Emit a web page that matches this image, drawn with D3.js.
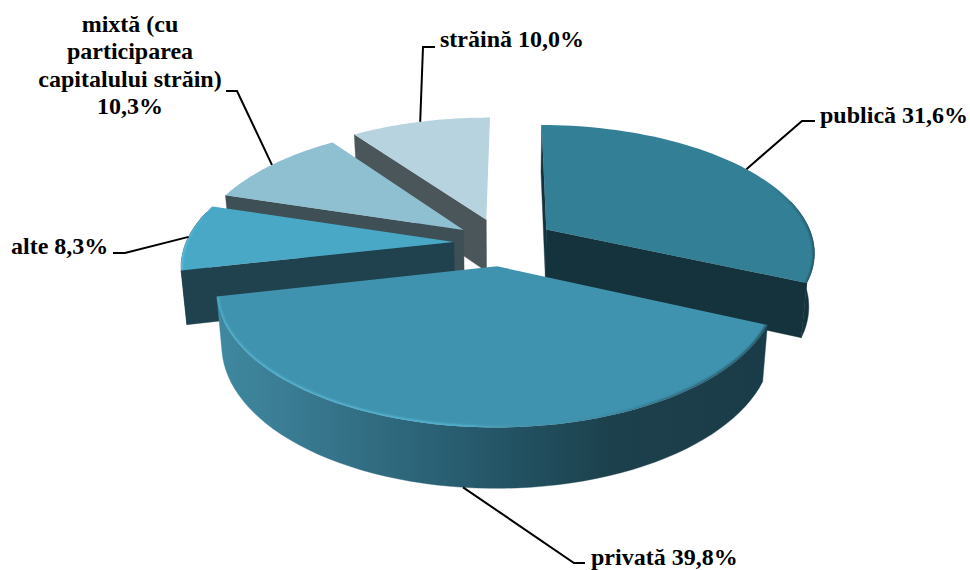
<!DOCTYPE html>
<html>
<head>
<meta charset="utf-8">
<script src="https://cdn.jsdelivr.net/npm/d3@7"></script>
<style>
  html, body { margin: 0; padding: 0; background: #fff; }
  svg { display: block; }
  text { font-family: "Liberation Serif", serif; font-weight: bold; font-size: 24px; fill: #000; }
</style>
</head>
<body>
<div id="chart"></div>
<script>
var categories = ['publică', 'privată', 'alte', 'mixtă', 'străină'];
var values = [31.6, 39.8, 8.3, 10.3, 10.0];
var valueLabels = ['31,6%', '39,8%', '8,3%', '10,3%', '10,0%'];

var explode = [0.2, 0.18, 0.18, 0.18, 0.2];
var topColors = ['#337f95', '#4093ae', '#48a8c5', '#8ec0d2', '#b7d3df'];
var sideColors = ['#15333c', '#1f424e', '#1f424e', '#3e4f56', '#4b565b'];
var drawOrder = [4, 3, 2, 0, 1];
// which cut faces can be seen: start of the slice, end of the slice
var cutFaces = [[true, true], [false, false], [true, false], [true, false], [true, false]];

// label text lines, leader elbow points and text anchor, one entry per slice
var labelLines = [
  ['publică 31,6%'],
  ['privată 39,8%'],
  ['alte 8,3%'],
  ['mixtă (cu', 'participarea', 'capitalului străin)', '10,3%'],
  ['străină 10,0%']
];
var labelElbows = [
  [[802, 121], [815, 121]],
  [[574, 563], [585, 563]],
  [[125, 253], [113, 253]],
  [[237, 91], [226, 91]],
  [[423, 47], [435, 47]]
];
var labelAnchors = [
  { x: 820, y: 123, a: 'start' },
  { x: 591, y: 565, a: 'start' },
  { x: 11, y: 254, a: 'start' },
  { x: 130, y: 32, a: 'middle' },
  { x: 440, y: 47, a: 'start' }
];

var width = 970;
var height = 570;
var cx = 502, cy = 243, rx = 268, ry = 126;
var persp = 0.165;      // ground plane perspective
var depth = 53, depthPersp = 0.11, taper = 0.982;
var turn = 0.4 * Math.PI / 180;

var xScale = d3.scaleLinear().domain([-1, 1]).range([cx - rx, cx + rx]);
var yScale = d3.scaleLinear().domain([-1, 1]).range([cy - ry, cy + ry]);

var svg = d3.select('#chart').append('svg')
  .attr('width', width)
  .attr('height', height);
var defs = svg.append('defs');

// ground point -> screen, Y is positive towards the viewer
function project(X, Y) {
  var s = 1 / (1 - persp * Y);
  return [xScale(X * s), yScale(Y * s)];
}
function projectLow(X, Y) {
  var p = project(X, Y);
  return [cx + (p[0] - cx) * taper, p[1] + depth / (1 - depthPersp * Y)];
}

var pie = d3.pie().sort(null).startAngle(turn).endAngle(2 * Math.PI + turn);
var arcs = pie(values);
var line = d3.line();

arcs.forEach(function (d, i) {
  var mid = (d.startAngle + d.endAngle) / 2;
  d.ox = Math.sin(mid) * explode[i];
  d.oy = -Math.cos(mid) * explode[i];
  d.mid = mid;
  d.rim = d3.range(0, 61).map(function (k) {
    var t = d.startAngle + (d.endAngle - d.startAngle) * k / 60;
    return [d.ox + Math.sin(t), d.oy - Math.cos(t), -Math.cos(t)];
  });
});

function grad(id, x1, x2, stops) {
  var g = defs.append('linearGradient').attr('id', id)
    .attr('gradientUnits', 'userSpaceOnUse')
    .attr('x1', x1).attr('x2', x2).attr('y1', 0).attr('y2', 0);
  stops.forEach(function (s) {
    g.append('stop').attr('offset', s[0]).attr('stop-color', s[1]).attr('stop-opacity', s[2] === undefined ? 1 : s[2]);
  });
  return 'url(#' + id + ')';
}

var blur = defs.append('filter').attr('id', 'soft')
  .attr('x', '-10%').attr('y', '-10%').attr('width', '120%').attr('height', '120%');
blur.append('feGaussianBlur').attr('stdDeviation', 0.9);

var rimFill = {
  1: grad('rimPriv', 222, 765, [[0, '#3f889f'], [0.17, '#37778e'], [0.5, '#245667'], [0.72, '#1c404c'], [1, '#1a3c48']])
};
var bevel = {
  0: grad('bevPub', 770, 815, [[0, '#1a4552', 0], [1, '#1a4552', 0.8]]),
  1: grad('bevPriv', 218, 769, [[0, '#5cc3e0', 0.7], [0.2, '#58b8d6'], [0.45, '#58b8d6'], [0.58, '#4093ae', 0], [0.8, '#24505f', 0.6], [1, '#1d4552']]),
  2: grad('bevAlt', 181, 215, [[0, '#62c4e4'], [1, '#48a8c5', 0]])
};

drawOrder.forEach(function (i) {
  var d = arcs[i];
  var g = svg.append('g').attr('class', 'slice');
  var apexTop = project(d.ox, d.oy);
  var apexLow = projectLow(d.ox, d.oy);

  // flat cut faces
  [d.rim[0], d.rim[d.rim.length - 1]].forEach(function (r, k) {
    if (!cutFaces[i][k]) return;
    g.append('path')
      .attr('d', line([apexTop, project(r[0], r[1]), projectLow(r[0], r[1]), apexLow]) + 'Z')
      .attr('fill', sideColors[i])
      .attr('stroke', sideColors[i])
      .attr('stroke-width', 0.4);
  });

  // outer wall, only the part turned to the viewer
  var upper = d.rim.map(function (r) { return project(r[0], r[1]); });
  var front = d.rim.filter(function (r) { return r[2] > -0.25; });
  if (front.length > 1) {
    var wallTop = front.map(function (r) { return project(r[0], r[1]); });
    var wallLow = front.map(function (r) { return projectLow(r[0], r[1]); }).reverse();
    g.append('path')
      .attr('d', line(wallTop.concat(wallLow)) + 'Z')
      .attr('fill', rimFill[i] || sideColors[i])
      .attr('stroke', rimFill[i] || sideColors[i])
      .attr('stroke-width', 0.4);
  }

  // top face
  var face = line([apexTop].concat(upper)) + 'Z';
  g.append('path').attr('d', face).attr('fill', topColors[i]);

  if (bevel[i]) {
    defs.append('clipPath').attr('id', 'clip' + i).append('path').attr('d', face);
    g.append('g')
      .attr('clip-path', 'url(#clip' + i + ')')
      .append('path')
      .attr('d', line(upper))
      .attr('fill', 'none')
      .attr('stroke', bevel[i])
      .attr('stroke-width', 3)
      .attr('filter', 'url(#soft)');
  }
});

// leader lines start at the middle of each slice's outer edge
arcs.forEach(function (d, i) {
  var X = d.ox + Math.sin(d.mid);
  var Y = d.oy - Math.cos(d.mid);
  var start = Y > 0.5 ? projectLow(X, Y) : project(X, Y);
  svg.append('path')
    .attr('d', line([start].concat(labelElbows[i])))
    .attr('fill', 'none')
    .attr('stroke', '#000')
    .attr('stroke-width', 2);

  var t = svg.append('text')
    .attr('x', labelAnchors[i].x)
    .attr('y', labelAnchors[i].y)
    .attr('text-anchor', labelAnchors[i].a);
  labelLines[i].forEach(function (s, k) {
    t.append('tspan')
      .attr('x', labelAnchors[i].x)
      .attr('dy', k === 0 ? 0 : 27.4)
      .text(s);
  });
});
</script>
</body>
</html>
